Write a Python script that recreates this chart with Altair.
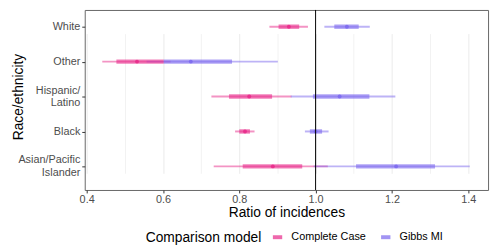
import altair as alt
import pandas as pd

categories = ["White", "Other", "Hispanic/Latino", "Black", "Asian/Pacific Islander"]
models = ["Complete Case", "Gibbs MI"]

# Complete Case
cc_point = [0.930, 0.532, 0.826, 0.815, 0.888]
cc_lo50 = [0.903, 0.478, 0.773, 0.800, 0.809]
cc_hi50 = [0.957, 0.602, 0.886, 0.828, 0.965]
cc_lo95 = [0.879, 0.441, 0.727, 0.789, 0.733]
cc_hi95 = [0.980, 0.620, 0.937, 0.840, 1.032]

# Gibbs MI
gb_point = [1.082, 0.673, 1.063, 1.000, 1.211]
gb_lo50 = [1.049, 0.602, 0.993, 0.985, 1.106]
gb_hi50 = [1.113, 0.781, 1.141, 1.017, 1.313]
gb_lo95 = [1.023, 0.557, 0.935, 0.972, 0.995]
gb_hi95 = [1.142, 0.901, 1.209, 1.034, 1.404]

x_ticks = [0.4, 0.5, 0.6, 0.7, 0.8, 0.9, 1.0, 1.1, 1.2, 1.3, 1.4]
ref_value = [1.0]
colors = ["#e7298a", "#7b68ee"]

rows = []
for m, pts, l5, h5, l9, h9 in [
    (models[0], cc_point, cc_lo50, cc_hi50, cc_lo95, cc_hi95),
    (models[1], gb_point, gb_lo50, gb_hi50, gb_lo95, gb_hi95),
]:
    for i, c in enumerate(categories):
        rows.append(dict(cat=c, model=m, point=pts[i], lo50=l5[i], hi50=h5[i], lo95=l9[i], hi95=h9[i]))
df = pd.DataFrame(rows)

FONT = "Liberation Sans"
minor_test = "round(datum.value*10) % 2 == 1"

xscale = alt.Scale(domain=[0.395, 1.452], nice=False, zero=False)
yscale = alt.Scale(type="point", domain=categories, range=[17, 159], padding=0)

label_expr_y = ("datum.value == 'Hispanic/Latino' ? ['Hispanic/', 'Latino'] : "
                "datum.value == 'Asian/Pacific Islander' ? ['Asian/Pacific', 'Islander'] : datum.value")

xaxis = alt.Axis(
    values=x_ticks,
    labelExpr="(round(datum.value*10) % 2 == 0) ? format(datum.value, '.1f') : ''",
    title="Ratio of incidences",
    titleFontSize=14, titleFontWeight="normal", titleColor="black", titleFont=FONT,
    titlePadding=1,
    labelFontSize=11, labelColor="#4d4d4d", labelFont=FONT, labelPadding=1,
    tickSize=3, tickColor="#333333",
    tickOpacity={"condition": {"test": minor_test, "value": 0}, "value": 1},
    gridColor={"condition": {"test": minor_test, "value": "#f2f2f2"}, "value": "#ebebeb"},
    gridWidth=1,
    domain=False,
)
yaxis = alt.Axis(
    title="Race/ethnicity",
    labelExpr=label_expr_y,
    titleFontSize=14, titleFontWeight="normal", titleColor="black", titleFont=FONT,
    titlePadding=-8,
    labelFontSize=11, labelColor="#4d4d4d", labelFont=FONT, labelPadding=2,
    labelLineHeight=13,
    labelOffset={"condition": {"test": "indexof(datum.value, '/') >= 0", "value": -6.5}, "value": 0},
    tickSize=3, tickColor="#333333",
    gridColor="#ebebeb", gridWidth=1,
    domain=False,
)

color = alt.Color(
    "model:N",
    scale=alt.Scale(domain=models, range=colors),
    legend=alt.Legend(
        title="Comparison model",
        orient="none", legendX=62, legendY=224, direction="horizontal",
        titleOrient="left", titleFontSize=14, titleFontWeight="normal", titleColor="black",
        titleFont=FONT, titlePadding=9, titleBaseline="middle",
        labelFontSize=11, labelFont=FONT, labelColor="black", labelOffset=7,
        symbolType="stroke", symbolSize=90, symbolStrokeWidth=4, symbolOpacity=0.7,
        columnPadding=7,
    ),
)

base = alt.Chart(df)

thin = base.mark_rule(strokeWidth=2, opacity=0.5).encode(
    x=alt.X("lo95:Q", scale=xscale, axis=xaxis),
    x2="hi95:Q",
    y=alt.Y("cat:N", scale=yscale, axis=yaxis, sort=categories),
    color=color,
)
thick = base.mark_rule(strokeWidth=4.5, opacity=0.6).encode(
    x=alt.X("lo50:Q", scale=xscale),
    x2="hi50:Q",
    y=alt.Y("cat:N", scale=yscale, sort=categories),
    color=color,
)
pts = base.mark_circle(size=16, opacity=0.85).encode(
    x=alt.X("point:Q", scale=xscale),
    y=alt.Y("cat:N", scale=yscale, sort=categories),
    color=color,
)
vline = alt.Chart(pd.DataFrame({"ref": ref_value})).mark_rule(color="black", strokeWidth=1).encode(
    x=alt.X("ref:Q", scale=xscale)
)

chart = alt.layer(thin, thick, pts, vline).properties(
    width=410, height=183,
    autosize=alt.AutoSizeParams(type="none"),
    padding={"left": 78, "top": 0, "right": 4, "bottom": 59},
    background="white",
).configure_view(stroke="#666666", strokeWidth=1)

chart.save("out.html", embed_options={"renderer": "svg", "actions": False})
